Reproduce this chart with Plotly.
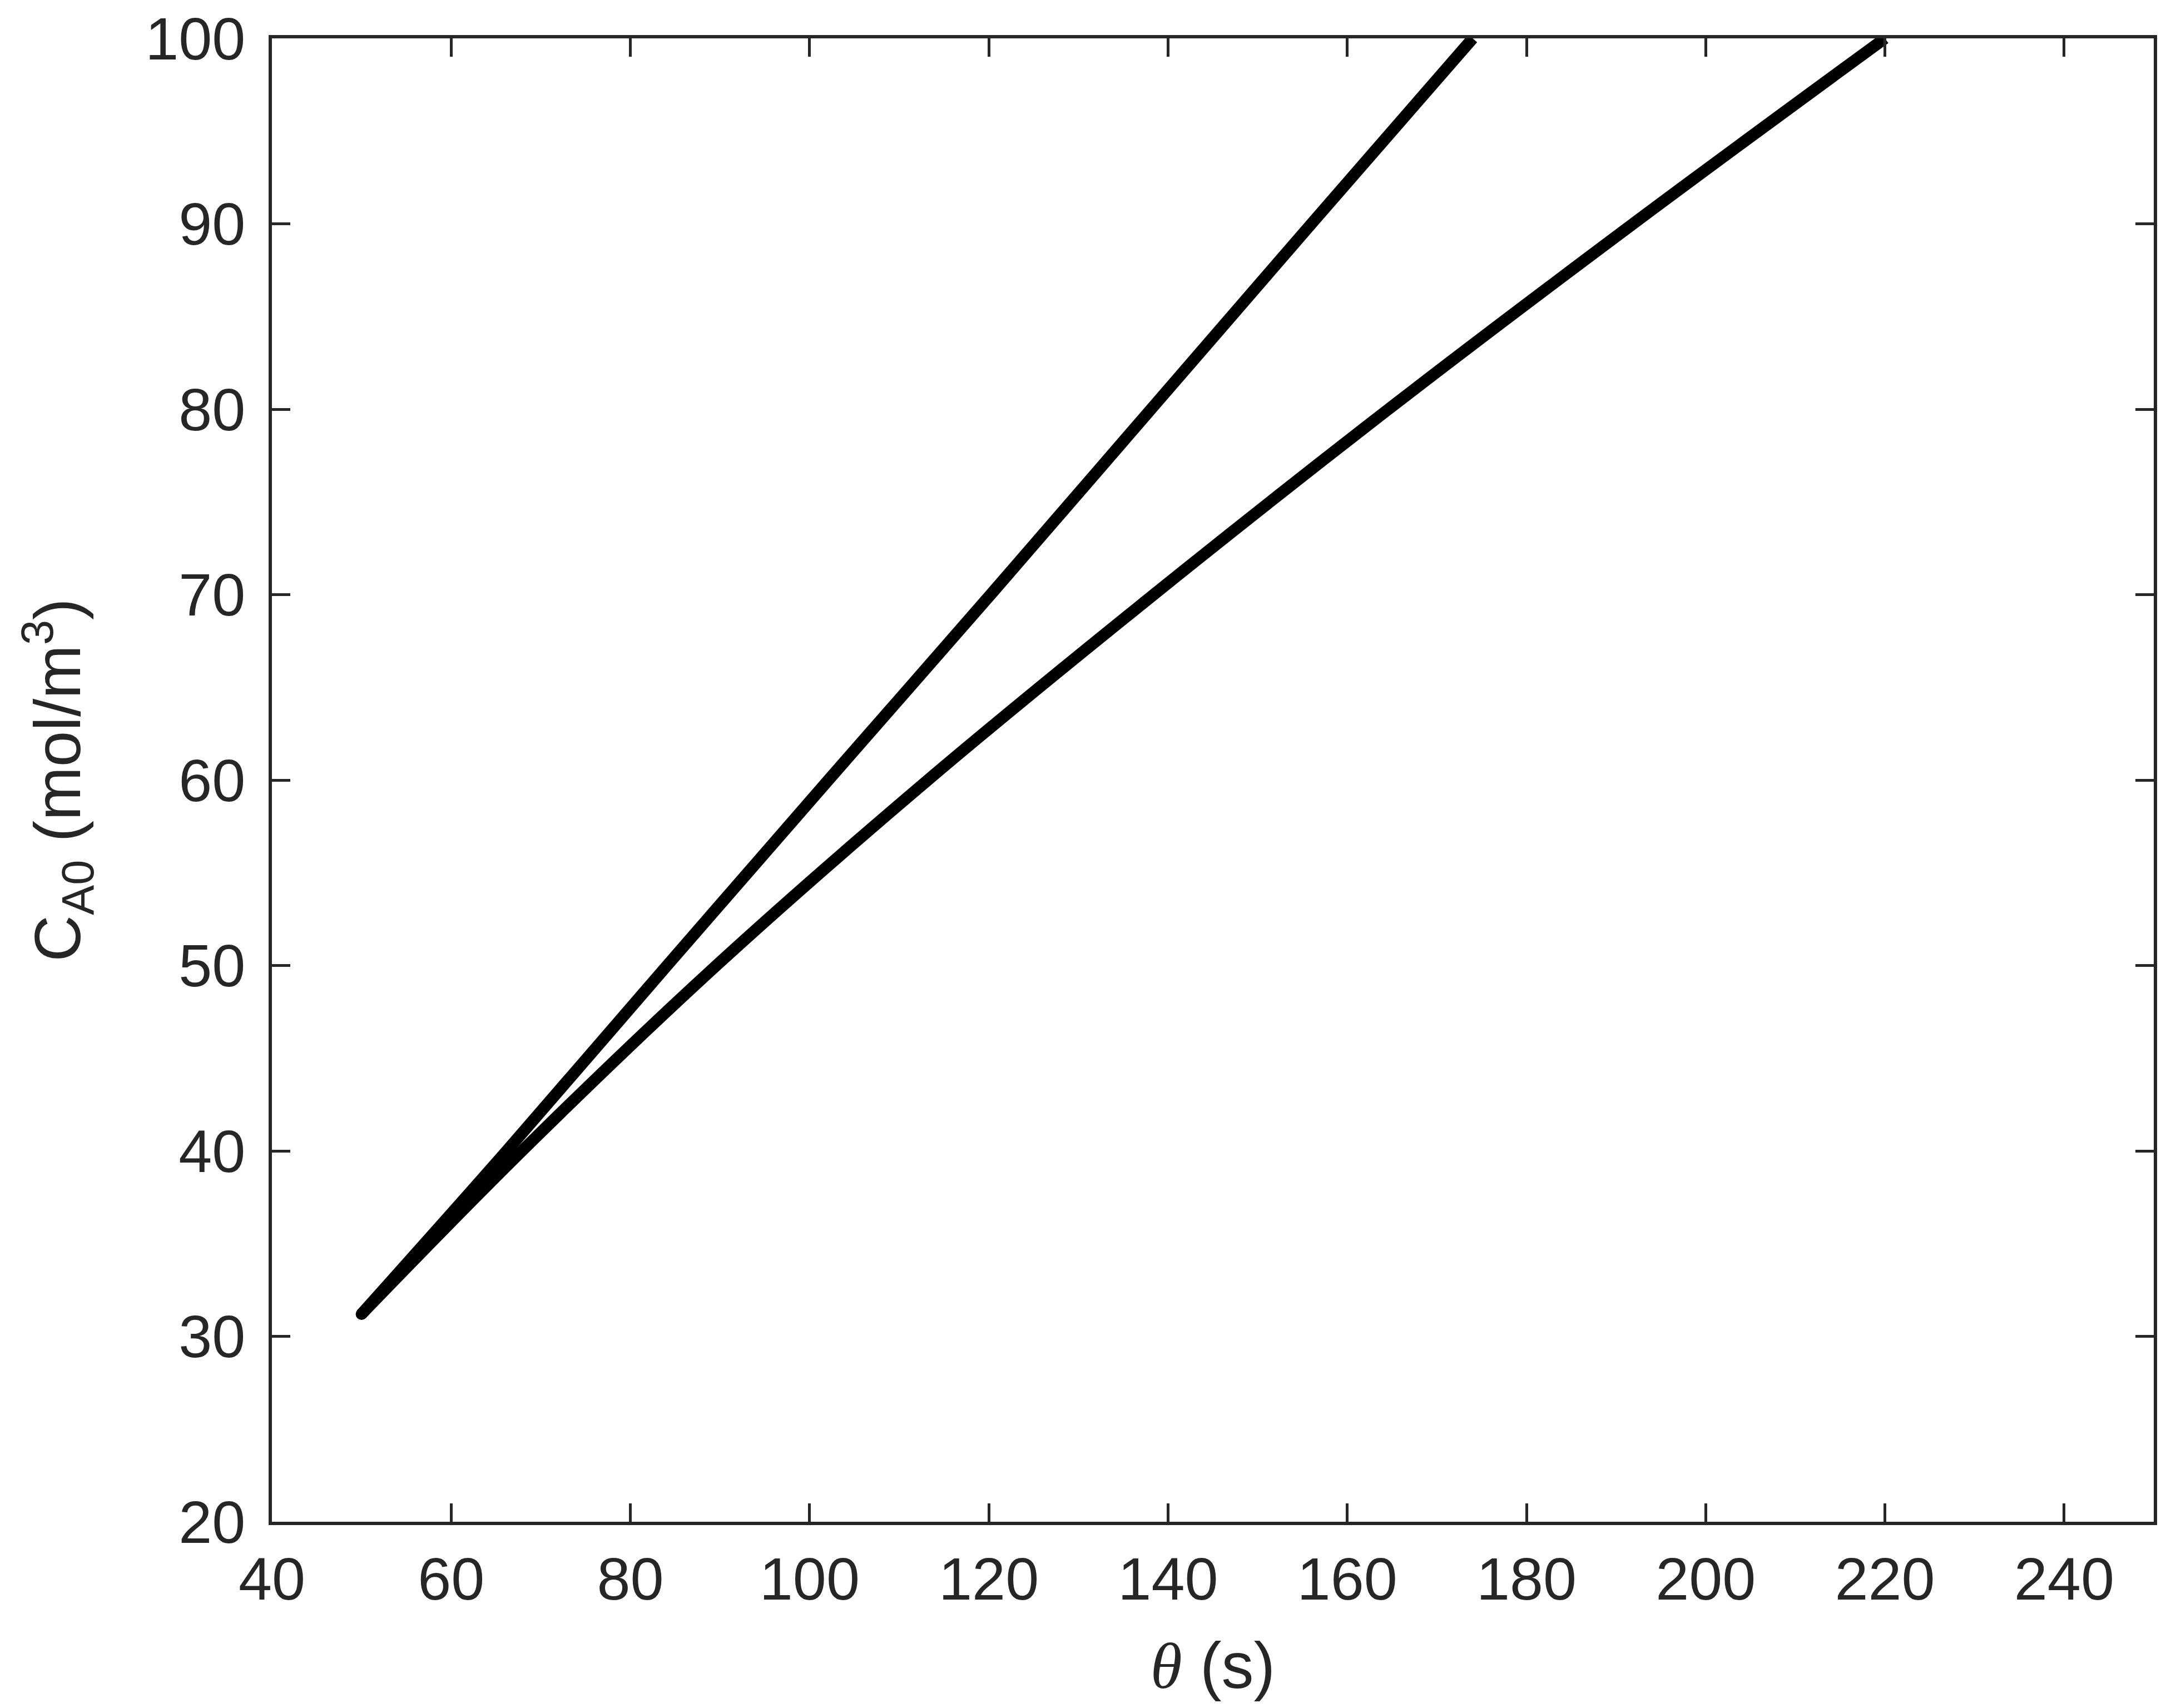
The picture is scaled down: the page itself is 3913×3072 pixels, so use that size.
import plotly.graph_objects as go

# Curve data
c_upper = [31.2, 40, 50, 60, 70, 80, 90, 100]
theta_upper = [50.0, 66.2, 84.1, 102.1, 120.2, 138.1, 156.0, 174.0]

c_lower = [31.2, 40, 50, 60, 70, 80, 90, 100]
theta_lower = [50.0, 67.9, 89.6, 113.2, 138.4, 164.6, 191.9, 220.0]

x_ticks = [40, 60, 80, 100, 120, 140, 160, 180, 200, 220, 240]
y_ticks = [20, 30, 40, 50, 60, 70, 80, 90, 100]

axis_color = "#262626"
font_family = "Liberation Sans, Arial, Helvetica, sans-serif"
LW = 21

fig = go.Figure()
for th, c in [(theta_upper, c_upper), (theta_lower, c_lower)]:
    fig.add_trace(go.Scatter(
        x=th, y=c, mode="lines",
        line=dict(color="black", width=LW, shape="spline"),
        showlegend=False, hoverinfo="skip",
    ))
# round cap at the common start point
fig.add_trace(go.Scatter(
    x=[theta_upper[0]], y=[c_upper[0]], mode="markers",
    marker=dict(color="black", size=LW, line=dict(width=0)),
    showlegend=False, hoverinfo="skip",
))

common = dict(
    showline=True, mirror="ticks", linecolor=axis_color, linewidth=6,
    ticks="inside", ticklen=33, tickwidth=5, tickcolor=axis_color,
    showgrid=False, zeroline=False,
    tickfont=dict(family=font_family, size=108, color=axis_color),
)

fig.update_xaxes(
    range=[40, 250], tickvals=x_ticks, ticktext=[str(v) for v in x_ticks],
    ticklabelstandoff=4,
    title=dict(
        text="<span style='font-family:Liberation Serif, Times New Roman, serif'><i>θ</i></span> (s)",
        font=dict(family=font_family, size=116, color=axis_color),
        standoff=58,
    ),
    **common,
)
fig.update_yaxes(
    range=[20, 100], tickvals=y_ticks, ticktext=[str(v) for v in y_ticks],
    ticklabelstandoff=20,
    title=dict(
        text="C<sub>A0</sub> (mol/m<sup>3</sup>)",
        font=dict(family=font_family, size=116, color=axis_color),
        standoff=80,
    ),
    **common,
)

fig.update_layout(
    width=3913, height=3072,
    margin=dict(l=481, r=48, t=61, b=343, autoexpand=False),
    plot_bgcolor="white", paper_bgcolor="white",
)

fig.write_html("out.html")
